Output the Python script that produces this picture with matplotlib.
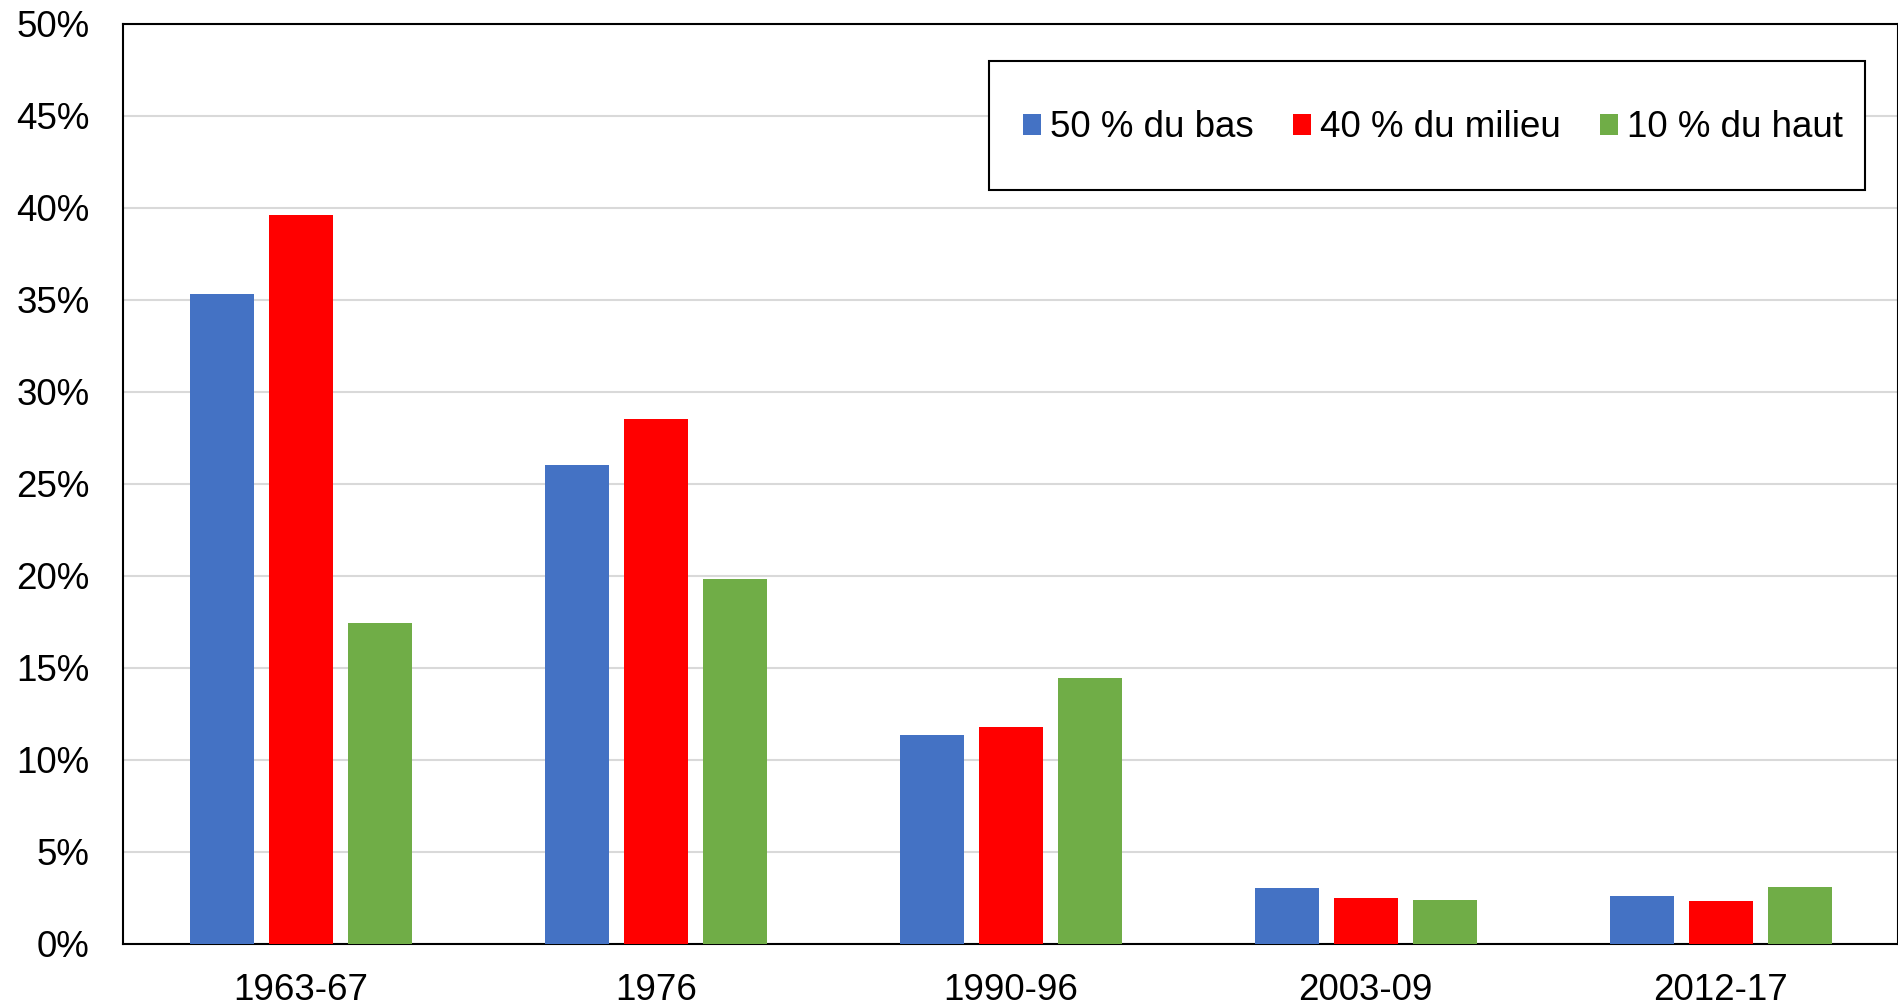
import matplotlib
matplotlib.use("Agg")
import matplotlib.pyplot as plt
import numpy as np
from matplotlib.patches import Rectangle, Patch
from matplotlib.ticker import FuncFormatter

plt.rcParams['font.family'] = ['Liberation Sans', 'DejaVu Sans']

categories = ["1963-67", "1976", "1990-96", "2003-09", "2012-17"]
series_names = ["50 % du bas", "40 % du milieu", "10 % du haut"]
bas = [35.3, 26.0, 11.35, 3.05, 2.58]
milieu = [39.6, 28.5, 11.8, 2.5, 2.32]
haut = [17.45, 19.85, 14.45, 2.35, 3.08]
colors = ["#4472C4", "#FF0000", "#70AD47"]

fig = plt.figure(figsize=(18.99, 10.07), dpi=100)
ax = fig.add_axes([0.065, 0.0629, 0.9345, 0.9133])

x = np.arange(len(categories))
w = 0.18
step = 0.2225
for i, (vals, c) in enumerate(zip([bas, milieu, haut], colors)):
    ax.bar(x + (i - 1) * step, vals, width=w, color=c, zorder=3)

ax.set_xlim(-0.5, len(categories) - 0.5)
ax.set_ylim(0, 50)
ax.set_yticks(np.arange(0, 51, 5))
ax.yaxis.set_major_formatter(FuncFormatter(lambda v, p: f"{int(v)}%"))
ax.set_xticks(x)
ax.set_xticklabels(categories)
ax.tick_params(axis='both', length=0, labelsize=26.5)
ax.tick_params(axis='y', pad=24.5)
ax.tick_params(axis='x', pad=21)
ax.grid(axis='y', color='#d9d9d9', linewidth=1.5, zorder=0)
for s in ax.spines.values():
    s.set_color('black')
    s.set_linewidth(1.5)

# legend frame
fig.patches.append(Rectangle((0.5208, 0.8113), 0.4613, 0.1281,
                             transform=fig.transFigure, fill=True, facecolor='white',
                             edgecolor='black', linewidth=1.5, zorder=5))
handles = [Patch(facecolor=c, edgecolor='none') for c in colors]
leg = fig.legend(handles, series_names, loc='center', bbox_to_anchor=(0.7548, 0.8730),
                 ncol=3, frameon=False, fontsize=26.5, handlelength=0.48, handleheight=0.48,
                 handletextpad=0.25, columnspacing=1.07, borderpad=0)
leg.set_zorder(6)

fig.savefig("out.png", dpi=100)
